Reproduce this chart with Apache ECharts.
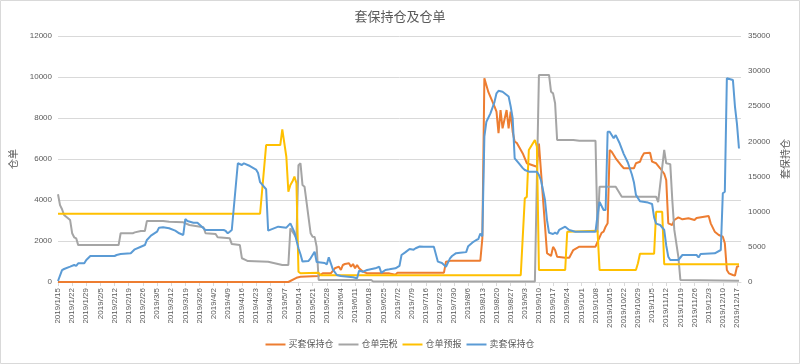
<!DOCTYPE html>
<html>
<head>
<meta charset="utf-8">
<script src="https://cdn.jsdelivr.net/npm/echarts@6/dist/echarts.min.js"></script>
<style>
html,body{margin:0;padding:0;background:#fff;}
#c{width:800px;height:364px;}
</style>
</head>
<body>
<div id="c"></div>
<script>
// ---- data ----
const startDate = '2019/1/15';
const endDate = '2019/12/19';
const seriesNames = ['买套保持仓', '仓单完税', '仓单预报', '卖套保持仓'];
const leftTicks = [0, 2000, 4000, 6000, 8000, 10000, 12000];
const rightTicks = [0, 5000, 10000, 15000, 20000, 25000, 30000, 35000];

const buyDates = ['2019/1/15','2019/5/9','2019/5/13','2019/5/15','2019/5/24','2019/5/26','2019/5/30','2019/6/1','2019/6/3','2019/6/4','2019/6/5','2019/6/6','2019/6/8','2019/6/9','2019/6/10','2019/6/11','2019/6/12','2019/6/13','2019/6/15','2019/6/17','2019/6/28','2019/7/1','2019/7/2','2019/7/25','2019/7/26','2019/7/29','2019/8/12','2019/8/13','2019/8/14','2019/8/15','2019/8/16','2019/8/19','2019/8/20','2019/8/21','2019/8/22','2019/8/23','2019/8/25','2019/8/26','2019/8/27','2019/8/28','2019/8/29','2019/8/30','2019/9/2','2019/9/4','2019/9/9','2019/9/10','2019/9/14','2019/9/16','2019/9/17','2019/9/18','2019/9/19','2019/9/23','2019/9/25','2019/9/27','2019/9/30','2019/10/8','2019/10/9','2019/10/11','2019/10/12','2019/10/13','2019/10/14','2019/10/15','2019/10/16','2019/10/18','2019/10/21','2019/10/22','2019/10/27','2019/10/28','2019/10/30','2019/10/31','2019/11/1','2019/11/4','2019/11/5','2019/11/7','2019/11/9','2019/11/11','2019/11/12','2019/11/13','2019/11/15','2019/11/16','2019/11/18','2019/11/20','2019/11/23','2019/11/26','2019/11/27','2019/12/3','2019/12/4','2019/12/6','2019/12/8','2019/12/10','2019/12/11','2019/12/12','2019/12/13','2019/12/15','2019/12/16','2019/12/17','2019/12/18'];
const buyValues = [0,0,600,750,850,1230,1230,1950,2180,1710,2420,2560,2660,2180,2560,1950,2420,1950,1470,1230,1230,1050,1330,1330,2900,3040,3040,6200,29000,28000,27000,25000,24230,21160,24470,21870,24470,21870,24230,21380,19960,19800,18300,16900,16400,19700,4100,3700,5000,4550,3600,3460,3460,4550,5020,5020,5700,7000,7160,7870,8350,18780,18540,17600,16500,16180,16180,16890,17100,17830,18310,18400,17120,16890,16180,15400,14500,8350,8110,8820,9200,8920,9060,8820,9100,9390,8350,7160,6690,6445,5506,1707,1233,1000,900,2177,2276];

const whDates = ['2019/1/15','2019/1/16','2019/1/17','2019/1/18','2019/1/21','2019/1/22','2019/1/23','2019/1/24','2019/1/25','2019/2/14','2019/2/15','2019/2/21','2019/2/22','2019/2/25','2019/2/27','2019/2/28','2019/3/8','2019/3/11','2019/3/18','2019/3/21','2019/3/28','2019/3/29','2019/4/3','2019/4/4','2019/4/10','2019/4/11','2019/4/15','2019/4/16','2019/4/18','2019/4/19','2019/4/29','2019/5/6','2019/5/9','2019/5/10','2019/5/13','2019/5/14','2019/5/15','2019/5/16','2019/5/17','2019/5/20','2019/5/21','2019/5/22','2019/5/23','2019/5/24','2019/6/19','2019/6/20','2019/9/8','2019/9/10','2019/9/15','2019/9/16','2019/9/17','2019/9/18','2019/9/19','2019/9/27','2019/9/30','2019/10/8','2019/10/9','2019/10/10','2019/10/18','2019/10/21','2019/11/7','2019/11/8','2019/11/11','2019/11/12','2019/11/14','2019/11/15','2019/11/16','2019/11/18','2019/11/19','2019/12/18'];
const whValues = [4280,3750,3550,3270,3020,2380,2180,2130,1800,1800,2380,2380,2420,2490,2490,2980,2980,2940,2910,2780,2670,2380,2340,2180,2130,1850,1800,1160,1070,1020,990,830,830,2620,2150,5700,5790,4730,4650,2380,2210,2200,1720,100,100,20,20,10100,10100,9280,9200,8720,6930,6930,6890,6890,2400,4650,4650,4160,4160,3900,6440,5790,5750,4000,2540,1230,100,60];

const fcDates = ['2019/1/15','2019/4/25','2019/4/28','2019/5/5','2019/5/6','2019/5/8','2019/5/9','2019/5/10','2019/5/11','2019/5/12','2019/5/13','2019/5/14','2019/5/15','2019/5/24','2019/5/25','2019/9/1','2019/9/3','2019/9/4','2019/9/5','2019/9/8','2019/9/9','2019/9/10','2019/9/23','2019/9/24','2019/10/9','2019/10/10','2019/10/28','2019/10/29','2019/10/30','2019/11/6','2019/11/7','2019/11/10','2019/11/11','2019/12/18'];
const fcValues = [3330,3330,6680,6680,7450,6110,4400,4730,4900,5140,4815,500,424,450,330,330,4080,4150,6440,6930,6600,585,585,2450,2500,585,585,912,1380,1380,3430,3430,870,870];

const sellDates = ['2019/1/15','2019/1/17','2019/1/18','2019/1/21','2019/1/23','2019/1/24','2019/1/25','2019/1/28','2019/1/29','2019/1/31','2019/2/12','2019/2/13','2019/2/15','2019/2/20','2019/2/22','2019/2/25','2019/2/27','2019/2/28','2019/3/2','2019/3/5','2019/3/6','2019/3/8','2019/3/11','2019/3/14','2019/3/16','2019/3/18','2019/3/19','2019/3/20','2019/3/23','2019/3/25','2019/3/28','2019/3/29','2019/4/7','2019/4/8','2019/4/9','2019/4/10','2019/4/11','2019/4/14','2019/4/16','2019/4/17','2019/4/20','2019/4/23','2019/4/24','2019/4/25','2019/4/28','2019/4/29','2019/5/4','2019/5/8','2019/5/10','2019/5/12','2019/5/14','2019/5/15','2019/5/16','2019/5/19','2019/5/20','2019/5/22','2019/5/23','2019/5/27','2019/5/28','2019/5/29','2019/5/30','2019/5/31','2019/6/2','2019/6/4','2019/6/10','2019/6/12','2019/6/13','2019/6/15','2019/6/17','2019/6/21','2019/6/23','2019/6/24','2019/6/26','2019/6/28','2019/7/1','2019/7/3','2019/7/4','2019/7/6','2019/7/8','2019/7/10','2019/7/11','2019/7/13','2019/7/15','2019/7/20','2019/7/22','2019/7/24','2019/7/26','2019/7/28','2019/7/29','2019/7/31','2019/8/2','2019/8/5','2019/8/6','2019/8/8','2019/8/10','2019/8/11','2019/8/12','2019/8/13','2019/8/14','2019/8/15','2019/8/17','2019/8/19','2019/8/20','2019/8/21','2019/8/23','2019/8/26','2019/8/27','2019/8/28','2019/8/29','2019/8/31','2019/9/2','2019/9/3','2019/9/5','2019/9/9','2019/9/10','2019/9/11','2019/9/13','2019/9/14','2019/9/15','2019/9/17','2019/9/18','2019/9/19','2019/9/20','2019/9/23','2019/9/25','2019/9/28','2019/10/8','2019/10/9','2019/10/10','2019/10/12','2019/10/13','2019/10/14','2019/10/15','2019/10/17','2019/10/18','2019/10/20','2019/10/22','2019/10/24','2019/10/26','2019/10/27','2019/10/28','2019/10/30','2019/11/3','2019/11/5','2019/11/6','2019/11/7','2019/11/9','2019/11/11','2019/11/12','2019/11/13','2019/11/14','2019/11/18','2019/11/20','2019/11/27','2019/11/28','2019/11/29','2019/12/6','2019/12/9','2019/12/10','2019/12/11','2019/12/12','2019/12/15','2019/12/16','2019/12/17','2019/12/18'];
const sellValues = [140,1700,1850,2180,2420,2280,2660,2660,3130,3700,3700,3840,3980,4080,4650,5020,5260,5980,6590,7160,7730,7780,7640,7300,6930,6690,8960,8680,8440,8440,7640,7400,7400,7260,6930,7160,7400,16900,16650,16890,16500,16000,15500,14200,13200,7300,7870,7730,8350,7100,4800,3950,2900,3000,3370,4310,2850,2700,2500,3500,2660,1800,1000,854,664,526,1608,1470,1707,1945,2177,1300,1707,1800,1945,2300,3840,4250,4700,4600,4800,5050,5000,5000,2893,2700,2177,3370,3700,4100,4170,4250,5100,5600,5976,6100,6900,6500,20673,22808,24000,25600,26848,27200,27077,26400,25000,23292,17600,16900,16200,15935,15693,15693,15224,14512,11667,8800,7000,6830,7014,6830,7400,7868,7400,7157,7157,9500,11400,10244,10244,21384,21384,20446,20900,19700,18200,17000,15300,14200,12400,11500,11300,11100,9200,8300,8110,7400,5200,3600,3130,3130,3841,3841,3500,3984,4083,4553,12620,12848,29000,28740,25000,22500,19000];

// ---- categories (every calendar day) ----
function fmt(d){ return d.getFullYear() + '/' + (d.getMonth()+1) + '/' + d.getDate(); }
const categories = [];
(function(){
  const p = startDate.split('/').map(Number), q = endDate.split('/').map(Number);
  const d = new Date(p[0], p[1]-1, p[2]), e = new Date(q[0], q[1]-1, q[2]);
  while (d <= e) { categories.push(fmt(d)); d.setDate(d.getDate()+1); }
})();

function pairs(ds, vs){ return ds.map((d, i) => [d, vs[i]]); }

const colors = ['#ED7D31', '#A5A5A5', '#FFC000', '#5B9BD5'];
const txt = '#595959';
const fam = '"Liberation Sans","Noto Sans CJK SC",sans-serif';
const plain = v => String(v);

const chart = echarts.init(document.getElementById('c'), null, {renderer: 'canvas'});
chart.setOption({
  animation: false,
  color: colors,
  textStyle: {fontFamily: fam},
  title: {
    text: '套保持仓及仓单', left: 'center', top: 6,
    textStyle: {fontSize: 13, fontWeight: 'normal', color: txt, fontFamily: fam}
  },
  graphic: [{type: 'rect', shape: {x: 0.5, y: 0.5, width: 799, height: 363}, style: {fill: 'none', stroke: '#d9d9d9', lineWidth: 1}, silent: true}],
  legend: {
    bottom: 10, left: 'center', icon: 'rect', itemWidth: 20, itemHeight: 2, itemGap: 5,
    textStyle: {fontSize: 9, color: txt, fontFamily: fam, padding: [0,0,0,-2]},
    data: seriesNames
  },
  grid: {left: 58, right: 59, top: 36, bottom: 82, containLabel: false},
  xAxis: {
    type: 'category', data: categories, boundaryGap: false,
    axisLine: {lineStyle: {color: '#d9d9d9'}},
    axisTick: {show: true, interval: 6, length: 4, lineStyle: {color: '#d9d9d9'}},
    axisLabel: {interval: 6, rotate: 90, fontSize: 8, color: txt, margin: 6, fontFamily: fam},
    splitLine: {show: false}
  },
  yAxis: [{
    type: 'value', min: leftTicks[0], max: leftTicks[leftTicks.length-1], interval: leftTicks[1]-leftTicks[0],
    name: '仓单', nameLocation: 'middle', nameGap: 38,
    nameTextStyle: {fontSize: 10, color: txt, fontFamily: fam},
    axisLine: {show: false}, axisTick: {show: false},
    axisLabel: {fontSize: 8, color: txt, margin: 6, fontFamily: fam, formatter: plain},
    splitLine: {lineStyle: {color: '#d9d9d9', width: 1}}
  }, {
    type: 'value', min: rightTicks[0], max: rightTicks[rightTicks.length-1], interval: rightTicks[1]-rightTicks[0],
    name: '套保持仓', nameLocation: 'middle', nameGap: 39,
    nameTextStyle: {fontSize: 10, color: txt, fontFamily: fam},
    axisLine: {show: false}, axisTick: {show: false},
    axisLabel: {fontSize: 8, color: txt, margin: 7, fontFamily: fam, formatter: plain},
    splitLine: {show: false}
  }],
  series: [
    {name: seriesNames[0], type: 'line', yAxisIndex: 1, data: pairs(buyDates, buyValues), showSymbol: false, symbol: 'none', lineStyle: {width: 2}},
    {name: seriesNames[1], type: 'line', yAxisIndex: 0, data: pairs(whDates, whValues), showSymbol: false, symbol: 'none', lineStyle: {width: 2}},
    {name: seriesNames[2], type: 'line', yAxisIndex: 0, data: pairs(fcDates, fcValues), showSymbol: false, symbol: 'none', lineStyle: {width: 2}},
    {name: seriesNames[3], type: 'line', yAxisIndex: 1, data: pairs(sellDates, sellValues), showSymbol: false, symbol: 'none', lineStyle: {width: 2}}
  ]
});
</script>
</body>
</html>
